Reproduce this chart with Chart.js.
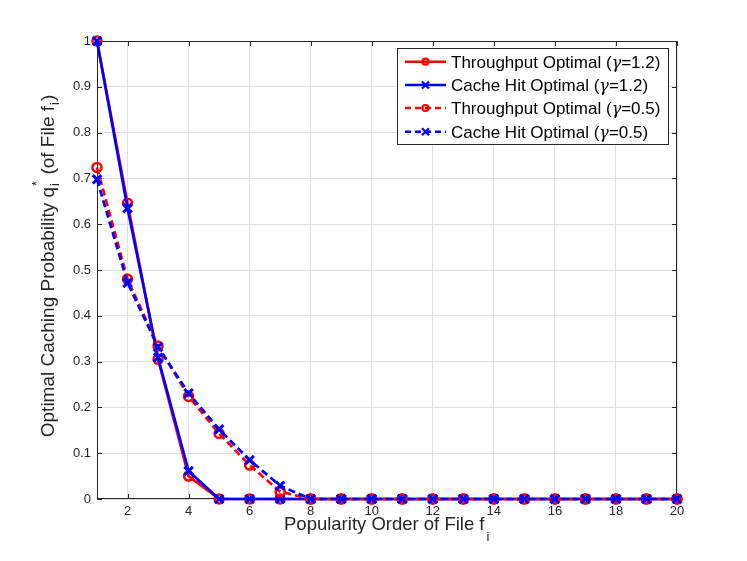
<!DOCTYPE html>
<html><head><meta charset="utf-8">
<script src="https://cdn.jsdelivr.net/npm/chart.js@4.4.0/dist/chart.umd.min.js"></script>
<style>html,body{margin:0;padding:0;background:#fff;}canvas{display:block;}</style>
</head><body>
<canvas id="c" width="747" height="561"></canvas>
<script>
// ---- data ----
const fileOrder = [1,2,3,4,5,6,7,8,9,10,11,12,13,14,15,16,17,18,19,20];
const throughputG12 = [1.000,0.646,0.305,0.050,0,0,0,0,0,0,0,0,0,0,0,0,0,0,0,0];
const cacheHitG12   = [1.000,0.635,0.309,0.061,0,0,0,0,0,0,0,0,0,0,0,0,0,0,0,0];
const throughputG05 = [0.724,0.480,0.334,0.224,0.143,0.074,0.016,0,0,0,0,0,0,0,0,0,0,0,0,0];
const cacheHitG05   = [0.698,0.472,0.332,0.231,0.152,0.085,0.029,0,0,0,0,0,0,0,0,0,0,0,0,0];
const xTickValues = [2,4,6,8,10,12,14,16,18,20];
const yTickValues = [0,0.1,0.2,0.3,0.4,0.5,0.6,0.7,0.8,0.9,1];
const seriesNames = ['Throughput Optimal (', 'Cache Hit Optimal (', 'Throughput Optimal (', 'Cache Hit Optimal ('];
const gammaLabels = ['=1.2)', '=1.2)', '=0.5)', '=0.5)'];

const RED = '#ff0000', BLUE = '#0000ff', INK = '#262626';
const FONT = '"Liberation Sans", Arial, Helvetica, sans-serif';

function pts(ys){ return fileOrder.map((x,i)=>({x:x,y:ys[i]})); }
function ds(label, ys, color, style, dashed, order){
  return {
    label: label, data: pts(ys), borderColor: color, backgroundColor: 'rgba(0,0,0,0)',
    borderWidth: 2.7, borderDash: dashed ? [7,4] : [],
    pointStyle: style, pointRadius: style === 'circle' ? 4.5 : 6,
    pointBorderWidth: style === 'circle' ? 2.5 : 3, pointBorderColor: color, pointBackgroundColor: 'rgba(0,0,0,0)',
    tension: 0, clip: false, order: order
  };
}

const boxPlugin = {
  id: 'box',
  beforeDatasetsDraw(chart){
    const {ctx, chartArea: ca, scales} = chart;
    ctx.save();
    ctx.strokeStyle = INK; ctx.lineWidth = 1;
    ctx.strokeRect(Math.round(ca.left)+0.5, Math.round(ca.top)+0.5, Math.round(ca.right-ca.left)-1, Math.round(ca.bottom-ca.top)-1);
    ctx.beginPath();
    const tl = 5;
    xTickValues.forEach(v=>{
      const px = Math.round(scales.x.getPixelForValue(v))+0.5;
      ctx.moveTo(px, ca.bottom); ctx.lineTo(px, ca.bottom - tl);
      ctx.moveTo(px, ca.top); ctx.lineTo(px, ca.top + tl);
    });
    yTickValues.forEach(v=>{
      const py = Math.round(scales.y.getPixelForValue(v))+0.5;
      ctx.moveTo(ca.left, py); ctx.lineTo(ca.left + tl, py);
      ctx.moveTo(ca.right, py); ctx.lineTo(ca.right - tl, py);
    });
    ctx.stroke();
    ctx.restore();
  },
  afterDraw(chart){
    const {ctx, chartArea: ca} = chart;
    ctx.save();
    ctx.fillStyle = INK;
    ctx.textBaseline = 'alphabetic';
    ctx.textAlign = 'left';
    // X title
    const main = 'Popularity Order of File f';
    ctx.font = '18.5px ' + FONT;
    const wMain = ctx.measureText(main).width;
    let x0 = 284;
    ctx.fillText(main, x0, 530);
    ctx.font = '13px ' + FONT;
    ctx.fillText('i', x0 + wMain + 2, 541);

    // Y title (rotated)
    ctx.save();
    ctx.translate(54, 266);
    ctx.rotate(-Math.PI/2);
    const parts = [
      {t:'Optimal Caching Probability q', f:19, dy:0, adv:true},
      {t:'i', f:13, dy:5, adv:false},
      {t:'*', f:13, dy:-13, adv:true},
      {t:' (of File f', f:19, dy:0, adv:true},
      {t:'i', f:13, dy:5, adv:true},
      {t:')', f:19, dy:0, adv:true}
    ];
    let total = 0;
    parts.forEach(p=>{ ctx.font = p.f+'px '+FONT; p.w = ctx.measureText(p.t).width; if(p.adv) total += p.w + (p.f===13?2:0); });
    let cx = -total/2;
    parts.forEach(p=>{
      ctx.font = p.f+'px '+FONT;
      ctx.fillText(p.t, cx + (p.f===13?1:0), p.dy);
      if(p.adv) cx += p.w + (p.f===13?2:0);
    });
    ctx.restore();

    // Legend
    const lx = 397.5, ly = 48.5, lw = 271, lh = 96;
    ctx.fillStyle = '#ffffff';
    ctx.fillRect(lx, ly, lw, lh);
    ctx.strokeStyle = INK; ctx.lineWidth = 1;
    ctx.strokeRect(lx, ly, lw, lh);
    const rows = [61.7, 85, 108, 131.7];
    const colors = [RED, BLUE, RED, BLUE];
    const styles = ['circle','crossRot','circle','crossRot'];
    const dashed = [false,false,true,true];
    rows.forEach((ry,i)=>{
      ctx.save();
      ctx.strokeStyle = colors[i]; ctx.lineWidth = 2.5;
      ctx.setLineDash(dashed[i] ? [6,4] : []);
      ctx.beginPath(); ctx.moveTo(405, ry); ctx.lineTo(446, ry); ctx.stroke();
      ctx.setLineDash([]);
      ctx.lineWidth = 2.2;
      ctx.beginPath();
      if(styles[i]==='circle'){ ctx.arc(425.5, ry, 3, 0, Math.PI*2); }
      else { const r=3.5; ctx.moveTo(425.5-r, ry-r); ctx.lineTo(425.5+r, ry+r); ctx.moveTo(425.5-r, ry+r); ctx.lineTo(425.5+r, ry-r); }
      ctx.stroke();
      ctx.restore();
      ctx.fillStyle = '#000';
      let tx = 451;
      const by = ry + 6;
      ctx.font = '17px ' + FONT;
      ctx.fillText(seriesNames[i], tx, by); tx += ctx.measureText(seriesNames[i]).width;
      ctx.font = 'italic 16px "DejaVu Serif", serif';
      ctx.fillText('\u03b3', tx, by); tx += ctx.measureText('\u03b3').width;
      ctx.font = '17px ' + FONT;
      ctx.fillText(gammaLabels[i], tx, by);
    });
    ctx.restore();
  }
};

new Chart(document.getElementById('c').getContext('2d'), {
  type: 'line',
  data: { datasets: [
    ds('Throughput Optimal (γ=1.2)', throughputG12, RED, 'circle', false, 4),
    ds('Cache Hit Optimal (γ=1.2)', cacheHitG12, BLUE, 'crossRot', false, 3),
    ds('Throughput Optimal (γ=0.5)', throughputG05, RED, 'circle', true, 2),
    ds('Cache Hit Optimal (γ=0.5)', cacheHitG05, BLUE, 'crossRot', true, 1)
  ]},
  options: {
    responsive: false, animation: false, devicePixelRatio: 1,
    layout: { padding: { left: 0, right: 70, top: 41, bottom: 0 } },
    plugins: { legend: { display: false }, tooltip: { enabled: false } },
    scales: {
      x: {
        type: 'linear', min: 1, max: 20,
        afterBuildTicks: s => { s.ticks = xTickValues.map(v=>({value:v})); },
        afterFit: s => { s.height = 62; },
        grid: { color: '#e0e0e0', lineWidth: 1, drawTicks: false },
        border: { display: false },
        ticks: { color: INK, font: { family: FONT, size: 13 }, padding: 5, maxRotation: 0, autoSkip: false }
      },
      y: {
        type: 'linear', min: 0, max: 1,
        afterBuildTicks: s => { s.ticks = yTickValues.map(v=>({value:v})); },
        afterFit: s => { s.width = 97; },
        grid: { color: '#e0e0e0', lineWidth: 1, drawTicks: false },
        border: { display: false },
        ticks: { color: INK, font: { family: FONT, size: 13 }, padding: 6, autoSkip: false,
          callback: v => String(Math.round(v*10)/10) }
      }
    }
  },
  plugins: [boxPlugin]
});
</script>
</body></html>
